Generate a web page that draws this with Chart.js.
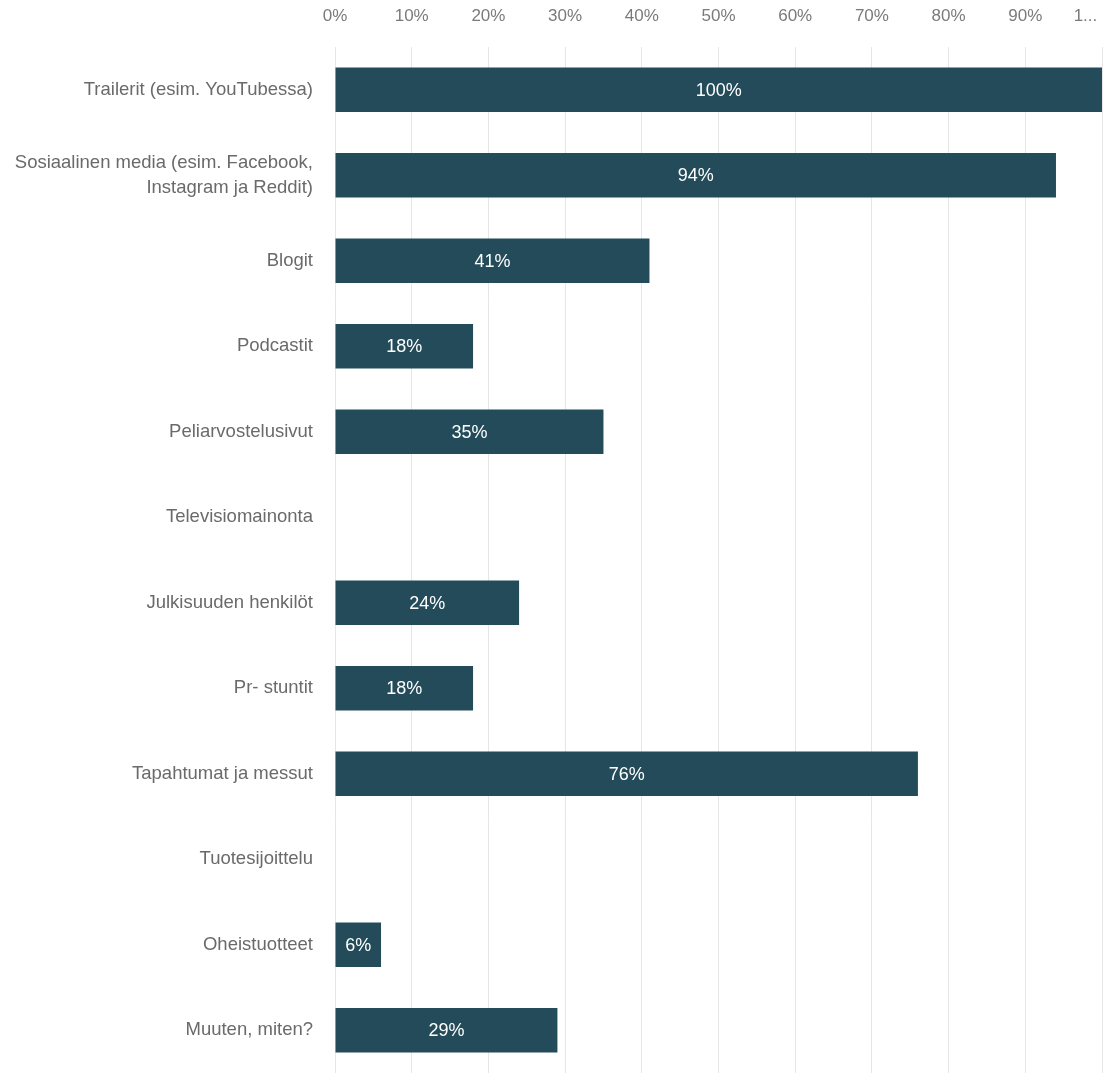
<!DOCTYPE html>
<html>
<head>
<meta charset="utf-8">
<script src="https://cdn.jsdelivr.net/npm/chart.js@4/dist/chart.umd.min.js"></script>
<style>
  html, body { margin: 0; padding: 0; background: #ffffff; }
  #wrap { width: 1104px; height: 1073px; position: relative; }
</style>
</head>
<body>
<div id="wrap"><canvas id="c"></canvas></div>
<script>
const categories = [
  "Trailerit (esim. YouTubessa)",
  ["Sosiaalinen media (esim. Facebook,", "Instagram ja Reddit)"],
  "Blogit",
  "Podcastit",
  "Peliarvostelusivut",
  "Televisiomainonta",
  "Julkisuuden henkilöt",
  "Pr- stuntit",
  "Tapahtumat ja messut",
  "Tuotesijoittelu",
  "Oheistuotteet",
  "Muuten, miten?"
];
const values = [100, 94, 41, 18, 35, 0, 24, 18, 76, 0, 6, 29];
const tickLabels = ["0%", "10%", "20%", "30%", "40%", "50%", "60%", "70%", "80%", "90%", "1...       "];

const FONT = "'Liberation Sans', Arial, sans-serif";

const valueLabels = {
  id: 'valueLabels',
  afterDatasetsDraw(chart) {
    const ctx = chart.ctx;
    const meta = chart.getDatasetMeta(0);
    ctx.save();
    ctx.font = "18px " + FONT;
    ctx.fillStyle = "#ffffff";
    ctx.textAlign = "center";
    ctx.textBaseline = "middle";
    meta.data.forEach((bar, i) => {
      const v = values[i];
      if (!v) return;
      const p = bar.getProps(['x', 'y', 'base'], true);
      ctx.fillText(v + "%", (p.x + p.base) / 2, p.y + 1);
    });
    ctx.restore();
  }
};

new Chart(document.getElementById('c'), {
  type: 'bar',
  data: {
    labels: categories,
    datasets: [{
      data: values,
      backgroundColor: "#234b5a",
      borderWidth: 0,
      barPercentage: 0.52,
      categoryPercentage: 1.0
    }]
  },
  options: {
    indexAxis: 'y',
    responsive: true,
    maintainAspectRatio: false,
    animation: false,
    layout: { padding: { top: 0, right: 2, bottom: 0, left: 0 } },
    plugins: {
      legend: { display: false },
      tooltip: { enabled: false }
    },
    scales: {
      x: {
        position: 'top',
        min: 0,
        max: 100,
        ticks: {
          stepSize: 10,
          padding: 20,
          color: "#7a7a7a",
          font: { family: FONT, size: 17 },
          maxRotation: 0,
          autoSkip: false,
          callback: (v, i) => tickLabels[i]
        },
        grid: { color: "#e6e6e6", drawTicks: false, lineWidth: 1 },
        border: { display: false },
        afterFit(scale) {
          scale.height = 47;
          scale.paddingLeft = 0;
          scale.paddingRight = 0;
        }
      },
      y: {
        ticks: {
          padding: 22,
          color: "#6a6a6a",
          font: { family: FONT, size: 18.5, lineHeight: 1.35 },
          autoSkip: false
        },
        grid: { display: false, drawTicks: false },
        border: { display: false },
        afterFit(scale) {
          scale.width = 335;
          scale.paddingTop = 0;
          scale.paddingBottom = 0;
        }
      }
    }
  },
  plugins: [valueLabels]
});
</script>
</body>
</html>
